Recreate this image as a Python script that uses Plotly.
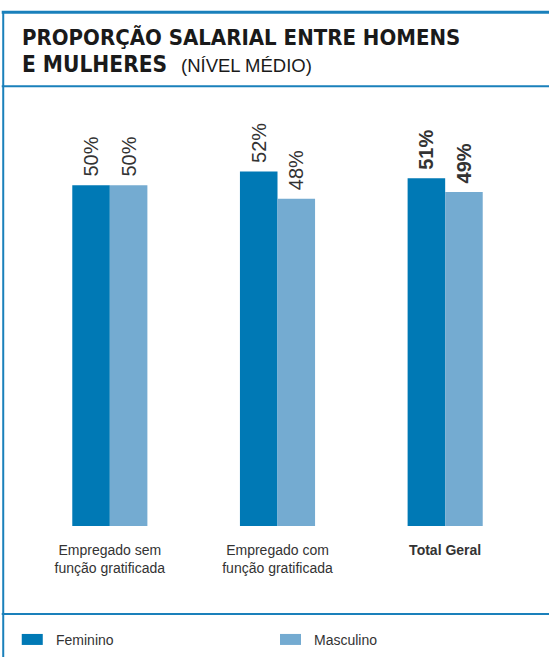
import plotly.graph_objects as go

categories = ["Empregado sem<br>função gratificada",
              "Empregado com<br>função gratificada",
              "<b>Total Geral</b>"]
feminino = [50, 52, 51]
masculino = [50, 48, 49]
series_names = ["Feminino", "Masculino"]

c_fem = "#0079b5"
c_mas = "#74abd1"
frame = "#1a80bb"
base = "Liberation Sans, Arial, sans-serif"
cond = "DejaVu Sans Condensed, Liberation Sans Narrow, sans-serif"


def labels(vals):
    # leading no-break space gives a little air between bar and label
    out = [f"\u00a0{v}%" for v in vals]
    out[-1] = f"<b>{out[-1]}</b>"
    return out


fig = go.Figure()
for name, vals, col in [(series_names[0], feminino, c_fem), (series_names[1], masculino, c_mas)]:
    fig.add_trace(go.Bar(
        x=categories, y=vals, name=name, marker_color=col,
        marker_line_width=0,
        text=labels(vals), textposition="outside", textangle=-90,
        constraintext="none", cliponaxis=False,
        outsidetextfont=dict(size=20, color="#333333", family=base),
    ))


def px_x(x):
    return (x - 26.25) / 502.5


def px_y(y):
    return (526 - y) / 409.2


shapes = [
    dict(type="line", xref="paper", yref="paper", x0=px_x(2), x1=px_x(560), y0=px_y(12), y1=px_y(12),
         line=dict(color=frame, width=3)),
    dict(type="line", xref="paper", yref="paper", x0=px_x(2), x1=px_x(560), y0=px_y(86), y1=px_y(86),
         line=dict(color=frame, width=2)),
    dict(type="line", xref="paper", yref="paper", x0=px_x(2), x1=px_x(560), y0=px_y(614), y1=px_y(614),
         line=dict(color=frame, width=2)),
    dict(type="line", xref="paper", yref="paper", x0=px_x(3.5), x1=px_x(3.5), y0=px_y(11), y1=px_y(670),
         line=dict(color=frame, width=2)),
]

# legend drawn by hand (wide flat swatches)
annotations = []
for name, col, xs in [(series_names[0], c_fem, 22), (series_names[1], c_mas, 280)]:
    shapes.append(dict(type="rect", xref="paper", yref="paper", x0=px_x(xs), x1=px_x(xs + 21),
                       y0=px_y(645), y1=px_y(634), fillcolor=col, line_width=0))
    annotations.append(dict(text=name, xref="paper", yref="paper", x=px_x(xs + 32), y=px_y(640),
                            xanchor="left", yanchor="middle", showarrow=False,
                            font=dict(size=14, color="#333333", family=base)))

annotations.append(dict(text="<b>PROPORÇÃO SALARIAL ENTRE HOMENS</b>", xref="paper", yref="paper",
                        x=px_x(20), y=px_y(37.5), xanchor="left", yanchor="middle", showarrow=False,
                        font=dict(size=22, color="#1a1a1a", family=cond)))
annotations.append(dict(text="<b>E MULHERES</b>", xref="paper", yref="paper",
                        x=px_x(20), y=px_y(63.5), xanchor="left", yanchor="middle", showarrow=False,
                        font=dict(size=22.5, color="#1a1a1a", family=cond)))
annotations.append(dict(text="(NÍVEL MÉDIO)", xref="paper", yref="paper",
                        x=px_x(179), y=px_y(65), xanchor="left", yanchor="middle", showarrow=False,
                        font=dict(size=18.5, color="#1a1a1a", family=base)))

fig.update_layout(
    width=549, height=657,
    margin=dict(l=26.25, r=20.25, t=116.8, b=131, autoexpand=False),
    paper_bgcolor="white", plot_bgcolor="white",
    showlegend=False,
    barmode="group", bargap=0.552, bargroupgap=0,
    shapes=shapes, annotations=annotations,
    font=dict(family=base, color="#333333"),
)
fig.update_xaxes(showgrid=False, zeroline=False, showline=False, ticks="",
                 tickfont=dict(size=14, color="#333333", family=base), ticklabelstandoff=14)
fig.update_yaxes(range=[0, 60], visible=False)

fig.write_html("out.html", config={"displayModeBar": False},
               post_script="document.body.style.margin='0';document.body.style.overflow='hidden';")
